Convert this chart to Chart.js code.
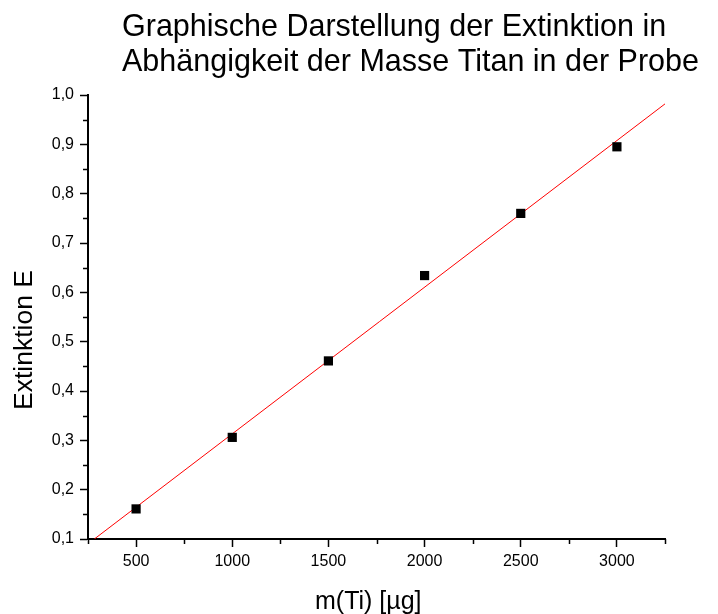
<!DOCTYPE html>
<html>
<head>
<meta charset="utf-8">
<script src="https://cdn.jsdelivr.net/npm/chart.js@4"></script>
<style>
html,body{margin:0;padding:0;background:#fff;}
#wrap{width:718px;height:614px;}
</style>
</head>
<body>
<div id="wrap"><canvas id="c" width="718" height="614"></canvas></div>
<script>
// ---- data ----
const titleLines = ['Graphische Darstellung der Extinktion in', 'Abhängigkeit der Masse Titan in der Probe'];
const xTitle = 'm(Ti) [µg]';
const yTitle = 'Extinktion E';
const massValues = [500, 1000, 1500, 2000, 2500, 3000];
const extinctionValues = [0.161, 0.306, 0.461, 0.634, 0.760, 0.895];
const fitLineX = [283, 3250];
const fitLineY = [0.1, 0.982];
const xMajorTicks = [500, 1000, 1500, 2000, 2500, 3000];
const yMajorTicks = [0.1, 0.2, 0.3, 0.4, 0.5, 0.6, 0.7, 0.8, 0.9, 1.0];
const xMinorTicks = [250, 750, 1250, 1750, 2250, 2750, 3250];
const yMinorTicks = [0.15, 0.25, 0.35, 0.45, 0.55, 0.65, 0.75, 0.85, 0.95];

const FONT = '"Liberation Sans", Arial, sans-serif';

function isMajor(list, v) {
  return list.some(t => Math.abs(t - v) < 1e-6);
}

const textPlugin = {
  id: 'textPlugin',
  afterDraw(chart) {
    const ctx = chart.ctx;
    const xs = chart.scales.x, ys = chart.scales.y;
    ctx.save();
    ctx.fillStyle = '#000';
    ctx.textBaseline = 'alphabetic';
    ctx.textAlign = 'left';
    ctx.font = '30.5px ' + FONT;
    ctx.fillText(titleLines[0], 122, 36);
    ctx.fillText(titleLines[1], 122, 71);
    ctx.font = '25px ' + FONT;
    ctx.fillText(xTitle, 315, 609);
    ctx.save();
    ctx.translate(32, 340);
    ctx.rotate(-Math.PI / 2);
    ctx.textAlign = 'center';
    ctx.font = '26.5px ' + FONT;
    ctx.fillText(yTitle, 0, 0);
    ctx.restore();
    // minor ticks
    ctx.strokeStyle = '#000';
    ctx.lineWidth = 1.5;
    ctx.beginPath();
    xMinorTicks.forEach(v => {
      const px = Math.round(xs.getPixelForValue(v)) + 0.5;
      ctx.moveTo(px, xs.top);
      ctx.lineTo(px, xs.top + 5);
    });
    yMinorTicks.forEach(v => {
      const py = Math.round(ys.getPixelForValue(v)) + 0.5;
      ctx.moveTo(ys.right, py);
      ctx.lineTo(ys.right - 5, py);
    });
    ctx.stroke();
    ctx.restore();
  }
};

new Chart(document.getElementById('c'), {
  type: 'scatter',
  data: {
    datasets: [
      {
        type: 'line',
        data: fitLineX.map((x, i) => ({x: x, y: fitLineY[i]})),
        borderColor: '#ff0000',
        borderWidth: 1,
        pointRadius: 0,
        fill: false,
        order: 2
      },
      {
        data: massValues.map((x, i) => ({x: x, y: extinctionValues[i]})),
        pointStyle: 'rect',
        pointRadius: 6.5,
        pointBorderWidth: 0,
        backgroundColor: '#000',
        borderColor: '#000',
        order: 1
      }
    ]
  },
  options: {
    responsive: false,
    animation: false,
    devicePixelRatio: 1,
    layout: {padding: {top: 95, right: 53, left: 0, bottom: 0}},
    plugins: {legend: {display: false}, tooltip: {enabled: false}, title: {display: false}},
    scales: {
      x: {
        type: 'linear',
        min: 250, max: 3250,
        afterFit: s => { s.height = 75; },
        border: {display: true, color: '#000', width: 2},
        grid: {
          drawOnChartArea: false, drawTicks: true, tickLength: 8, tickWidth: 1.5,
          tickColor: c => (c.tick && isMajor(xMajorTicks, c.tick.value)) ? '#000' : 'rgba(0,0,0,0)'
        },
        ticks: {
          stepSize: 250, autoSkip: false, maxRotation: 0, padding: 5,
          color: '#000', font: {family: FONT, size: 16},
          callback: v => isMajor(xMajorTicks, v) ? String(v) : ''
        }
      },
      y: {
        type: 'linear',
        min: 0.1, max: 1.0,
        afterFit: s => { s.width = 88; },
        border: {display: true, color: '#000', width: 2},
        grid: {
          drawOnChartArea: false, drawTicks: true, tickLength: 8, tickWidth: 1.5,
          tickColor: c => (c.tick && isMajor(yMajorTicks, c.tick.value)) ? '#000' : 'rgba(0,0,0,0)'
        },
        ticks: {
          stepSize: 0.05, autoSkip: false, padding: 6,
          color: '#000', font: {family: FONT, size: 16},
          callback: v => isMajor(yMajorTicks, v) ? v.toFixed(1).replace('.', ',') : ''
        }
      }
    }
  },
  plugins: [textPlugin]
});
</script>
</body>
</html>
